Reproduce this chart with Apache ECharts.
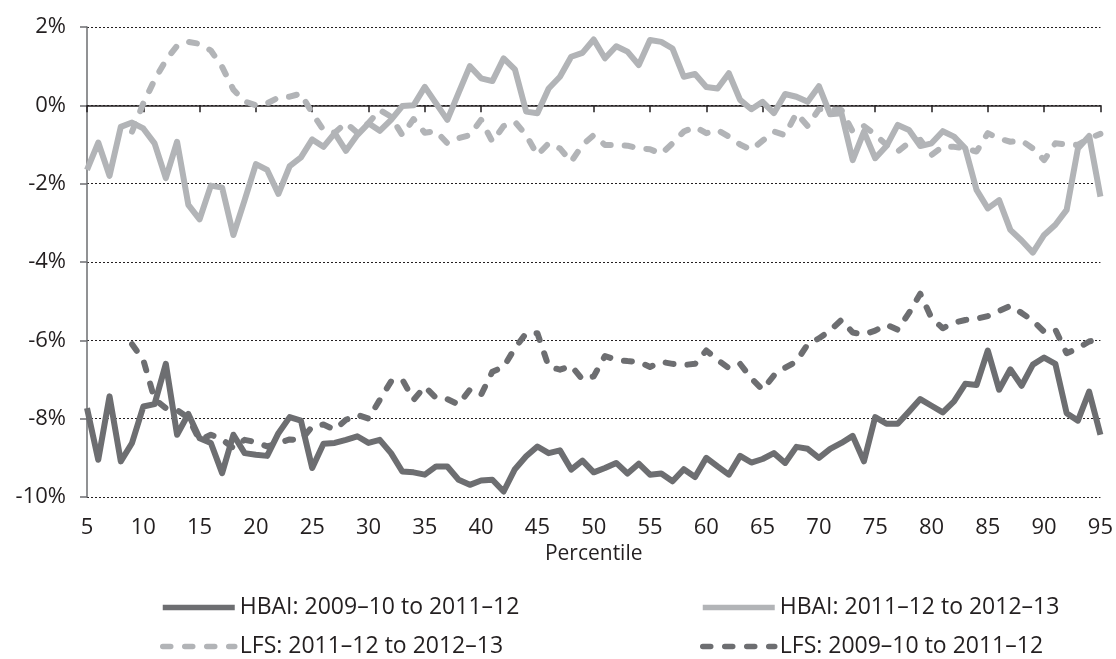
<!DOCTYPE html>
<html>
<head>
<meta charset="utf-8">
<script src="https://cdn.jsdelivr.net/npm/echarts@6/dist/echarts.min.js"></script>
<style>
  html, body { margin: 0; padding: 0; background: #fff; }
  #chart { width: 1116px; height: 659px; }
</style>
</head>
<body>
<div id="chart"></div>
<script>
// percentiles on the x axis
const percentiles = []
for (let p = 5; p <= 95; p++) percentiles.push(p)

// HBAI: 2009–10 to 2011–12 (p5..p95)
const hbai0912 = [
  -7.73, -9.05, -7.43, -9.09, -8.62, -7.69, -7.63, -6.60, -8.41, -7.88,
  -8.50, -8.62, -9.39, -8.41, -8.88, -8.92, -8.95, -8.37, -7.96, -8.05,
  -9.26, -8.64, -8.62, -8.54, -8.45, -8.62, -8.54, -8.88, -9.35, -9.37,
  -9.43, -9.22, -9.22, -9.56, -9.69, -9.58, -9.56, -9.86, -9.29, -8.96,
  -8.71, -8.88, -8.81, -9.30, -9.07, -9.37, -9.26, -9.13, -9.40, -9.15,
  -9.43, -9.40, -9.60, -9.29, -9.49, -9.00, -9.22, -9.43, -8.95, -9.12,
  -9.03, -8.88, -9.13, -8.72, -8.77, -9.00, -8.77, -8.62, -8.44, -9.09,
  -7.96, -8.13, -8.13, -7.82, -7.50, -7.67, -7.84, -7.56, -7.11, -7.14,
  -6.26, -7.26, -6.74, -7.16, -6.62, -6.44, -6.60, -7.86, -8.05, -7.31,
  -8.41
]

// HBAI: 2011–12 to 2012–13 (p5..p95)
const hbai1213 = [
  -1.65, -0.95, -1.80, -0.55, -0.44, -0.59, -0.97, -1.86, -0.93, -2.54,
  -2.91, -2.05, -2.10, -3.31, -2.42, -1.50, -1.65, -2.26, -1.55, -1.33,
  -0.87, -1.06, -0.71, -1.16, -0.76, -0.46, -0.65, -0.37, -0.02, 0.00,
  0.47, 0.05, -0.37, 0.32, 1.00, 0.69, 0.62, 1.20, 0.92, -0.16,
  -0.20, 0.43, 0.73, 1.24, 1.34, 1.68, 1.20, 1.51, 1.37, 1.03,
  1.67, 1.62, 1.45, 0.73, 0.80, 0.47, 0.43, 0.82, 0.14, -0.10,
  0.09, -0.20, 0.29, 0.22, 0.09, 0.49, -0.23, -0.20, -1.40, -0.67,
  -1.35, -1.04, -0.50, -0.63, -1.04, -0.97, -0.66, -0.80, -1.10, -2.16,
  -2.63, -2.42, -3.18, -3.45, -3.76, -3.31, -3.05, -2.67, -1.10, -0.78,
  -2.33
]

// LFS: 2011–12 to 2012–13 (p5..p95, starts at p9)
const lfs1213 = [
  null, null, null, null, -0.67, 0.05, 0.65, 1.15, 1.52, 1.62,
  1.57, 1.40, 0.98, 0.40, 0.10, 0.00, 0.05, 0.20, 0.22, 0.30,
  -0.20, -0.63, -0.70, -0.45, -0.70, -0.45, -0.12, -0.29, -0.76, -0.35,
  -0.70, -0.66, -0.97, -0.84, -0.76, -0.37, -0.93, -0.53, -0.42, -0.76,
  -1.27, -0.97, -1.10, -1.44, -1.01, -0.76, -1.01, -1.01, -1.03, -1.10,
  -1.12, -1.24, -0.97, -0.67, -0.55, -0.71, -0.63, -0.80, -1.00, -1.14,
  -0.90, -0.67, -0.76, -0.20, -0.53, -0.10, -0.12, -0.12, -0.67, -0.53,
  -0.75, -1.01, -1.18, -0.95, -0.88, -1.27, -1.05, -1.06, -1.10, -1.18,
  -0.71, -0.85, -0.93, -0.90, -1.10, -1.40, -0.97, -1.00, -1.01, -0.84,
  -0.73
]

// LFS: 2009–10 to 2011–12 (p5..p95, starts at p9)
const lfs0912 = [
  null, null, null, null, -6.10, -6.50, -7.50, -7.73, -7.78, -7.98,
  -8.55, -8.41, -8.53, -8.75, -8.54, -8.60, -8.71, -8.62, -8.53, -8.55,
  -8.20, -8.15, -8.28, -8.03, -7.90, -8.00, -7.52, -7.05, -7.00, -7.52,
  -7.18, -7.47, -7.50, -7.64, -7.26, -7.39, -6.80, -6.68, -6.20, -5.82,
  -5.82, -6.67, -6.75, -6.65, -7.00, -6.92, -6.40, -6.50, -6.53, -6.55,
  -6.68, -6.55, -6.60, -6.63, -6.60, -6.26, -6.50, -6.71, -6.60, -6.97,
  -7.26, -6.90, -6.70, -6.54, -6.10, -5.95, -5.75, -5.48, -5.80, -5.85,
  -5.75, -5.60, -5.73, -5.30, -4.81, -5.43, -5.69, -5.55, -5.48, -5.45,
  -5.38, -5.25, -5.12, -5.30, -5.50, -5.78, -5.73, -6.33, -6.20, -6.03,
  -5.95
]

const seriesNames = [
  'HBAI: 2009–10 to 2011–12',
  'HBAI: 2011–12 to 2012–13',
  'LFS: 2011–12 to 2012–13',
  'LFS: 2009–10 to 2011–12'
]

const DARK = '#6d6e71'
const LIGHT = '#b2b4b7'
const FONT = 'Open Sans'
const LINE_W = 6
const DASH = [8, 14]

const pairs = (vals) => percentiles.map((p, i) => [p, vals[i]])

const lineSeries = (name, vals, color, dashed) => ({
  name: name,
  type: 'line',
  xAxisIndex: 0,
  data: pairs(vals),
  symbol: 'none',
  connectNulls: false,
  animation: false,
  lineStyle: {
    color: color,
    width: LINE_W,
    type: dashed ? DASH : 'solid',
    cap: dashed ? 'round' : 'butt',
    join: 'round'
  },
  emphasis: { disabled: true },
  itemStyle: { color: color }
})

// one legend per entry so the 2x2 layout sits where the reference has it
const legendAt = (name, left, top) => ({
  data: [name],
  left: left,
  top: top,
  padding: 0,
  itemWidth: 72,
  itemHeight: 24,
  itemGap: 6,
  itemStyle: { opacity: 0 },
  lineStyle: { width: LINE_W - 0.5 },
  textStyle: { fontFamily: FONT, fontSize: 23, color: '#231f20' }
})

const chart = echarts.init(document.getElementById('chart'), null, { renderer: 'canvas' })

chart.setOption({
  animation: false,
  backgroundColor: '#fff',
  grid: { left: 87, right: 14, top: 27, bottom: 162 },
  legend: [
    legendAt(seriesNames[0], 160, 596),
    legendAt(seriesNames[2], 160, 635),
    legendAt(seriesNames[1], 700, 596),
    legendAt(seriesNames[3], 700, 635)
  ],
  xAxis: [
    {
      type: 'value',
      min: 5,
      max: 95,
      interval: 5,
      position: 'bottom',
      name: 'Percentile',
      nameLocation: 'middle',
      nameGap: 41,
      nameTextStyle: { fontFamily: FONT, fontSize: 21, color: '#231f20' },
      axisLine: { show: false, onZero: false },
      axisTick: { show: false },
      splitLine: { show: false },
      axisLabel: { margin: 20, fontFamily: FONT, fontSize: 22, color: '#231f20' }
    },
    {
      // zero line with its tick marks
      type: 'value',
      min: 5,
      max: 95,
      interval: 5,
      position: 'bottom',
      axisLine: { show: true, onZero: true, lineStyle: { color: '#231f20', width: 1.5 } },
      axisTick: { show: true, length: 7, lineStyle: { color: '#231f20', width: 1.5 } },
      axisLabel: { show: false },
      splitLine: { show: false }
    }
  ],
  yAxis: {
    type: 'value',
    min: -10,
    max: 2,
    interval: 2,
    axisLine: { show: true, lineStyle: { color: DARK, width: 1.5 } },
    axisTick: { show: true, length: 7, lineStyle: { color: DARK, width: 1.5 } },
    axisLabel: {
      margin: 21,
      formatter: '{value}%',
      fontFamily: FONT,
      fontSize: 22,
      color: '#231f20'
    },
    splitLine: { show: true, lineStyle: { color: '#231f20', type: [2, 2], width: 1 } }
  },
  series: [
    lineSeries(seriesNames[0], hbai0912, DARK, false),
    lineSeries(seriesNames[1], hbai1213, LIGHT, false),
    lineSeries(seriesNames[2], lfs1213, LIGHT, true),
    lineSeries(seriesNames[3], lfs0912, DARK, true)
  ]
})
</script>
</body>
</html>
